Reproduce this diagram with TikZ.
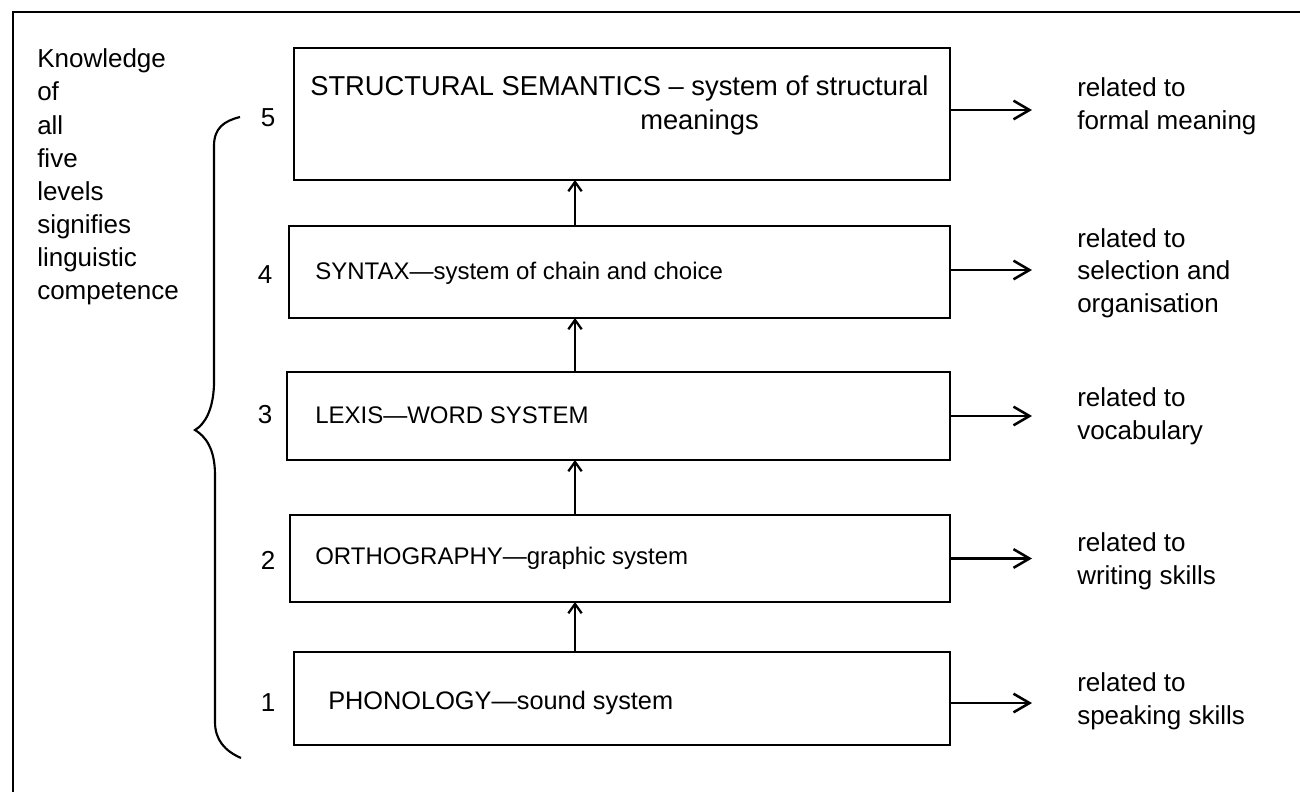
\documentclass[tikz,border=0pt]{standalone}
\usepackage{fontspec}
\setmainfont{Liberation Sans}
\usetikzlibrary{arrows.meta}
\begin{document}
\begin{tikzpicture}[x=0.75pt,y=-0.75pt,
  levelbox/.style={draw, line width=2.1pt, inner sep=0pt, outer sep=0pt},
  boxtext/.style={anchor=west, inner sep=0pt, font=\fontsize{18}{22}\selectfont},
  bigboxtext/.style={anchor=west, inner sep=0pt, font=\fontsize{20.5}{24}\selectfont},
  sidetext/.style={anchor=west, inner sep=0pt, align=left, font=\fontsize{19.5}{24.5}\selectfont},
  lefttext/.style={anchor=base west, inner sep=0pt, font=\fontsize{19.5}{24}\selectfont},
  numtext/.style={inner sep=0pt, font=\fontsize{19.5}{24}\selectfont},
  rarrow/.style={line width=1.9pt, -{Straight Barb[length=12pt, width=14pt, line width=1.9pt]}},
  uarrow/.style={line width=1.7pt, -{Straight Barb[length=7pt, width=10pt, line width=1.7pt]}},
  framestyle/.style={line width=2.2pt},
  bracestyle/.style={line width=1.6pt}
]
\useasboundingbox (0,0) rectangle (1300,792);
% open frame
\coordinate (fr1) at (13,792);
\coordinate (fr2) at (13,12);
\coordinate (fr3) at (1300,12);
\draw[framestyle] (fr1) -- (fr2) -- (fr3);

% boxes
\node[levelbox, minimum width=492pt, minimum height=99pt] (b5) at (622,114) {};
\node[levelbox, minimum width=495.75pt, minimum height=69pt] (b4) at (619.5,272) {};
\node[levelbox, minimum width=497.25pt, minimum height=66pt] (b3) at (618.5,416) {};
\node[levelbox, minimum width=495pt, minimum height=65.25pt] (b2) at (620,558.5) {};
\node[levelbox, minimum width=492pt, minimum height=69.75pt] (b1) at (622,698.5) {};

% box texts
\node[bigboxtext] (t5a) at (310,88) {STRUCTURAL SEMANTICS -- system of structural};
\node[bigboxtext] (t5b) at (640,122) {meanings};
\node[boxtext] (t4) at (315,273) {SYNTAX—system of chain and choice};
\node[boxtext] (t3) at (315,415) {LEXIS—WORD SYSTEM};
\node[boxtext] (t2) at (315,558) {ORTHOGRAPHY—graphic system};
\node[boxtext, font=\fontsize{19}{22}\selectfont] (t1) at (328,703) {PHONOLOGY—sound system};

% numbers
\node[numtext] (n5) at (268,118) {5};
\node[numtext] (n4) at (265,275) {4};
\node[numtext] (n3) at (265,415) {3};
\node[numtext] (n2) at (268,560) {2};
\node[numtext] (n1) at (268,703) {1};

% upward arrows
\coordinate (ax) at (575,0);
\draw[uarrow] (b1.north -| ax) -- (b2.south -| ax);
\draw[uarrow] (b2.north -| ax) -- (b3.south -| ax);
\draw[uarrow] (b3.north -| ax) -- (b4.south -| ax);
\draw[uarrow] (b4.north -| ax) -- (b5.south -| ax);

% right arrows
\path ([yshift=3pt]b5.east) ++(82,0) coordinate (e5);
\path ([yshift=1.5pt]b4.east) ++(82,0) coordinate (e4);
\path (b3.east) ++(82,0) coordinate (e3);
\path (b2.east) ++(82,0) coordinate (e2);
\path ([yshift=-3.4pt]b1.east) ++(82,0) coordinate (e1);
\draw[rarrow] ([yshift=3pt]b5.east) -- (e5);
\draw[rarrow] ([yshift=1.5pt]b4.east) -- (e4);
\draw[rarrow] (b3.east) -- (e3);
\draw[rarrow] (b2.east) -- (e2);
\draw[rarrow] ([yshift=-3.4pt]b1.east) -- (e1);

% side labels
\node[sidetext] (s5) at (1077,106) {related to\\formal meaning};
\node[sidetext] (s4) at (1077,273) {related to\\selection and\\organisation};
\node[sidetext] (s3) at (1077,416) {related to\\vocabulary};
\node[sidetext] (s2) at (1077,561) {related to\\writing skills};
\node[sidetext] (s1) at (1077,701) {related to\\speaking skills};

% left text
\foreach \w [count=\i] in {Knowledge,of,all,five,levels,signifies,linguistic,competence}{
  \node[lefttext] (L\i) at (37,{68+(\i-1)*33}) {\w};
}

% brace
\draw[bracestyle] (240,117) .. controls (224,121) and (214,128) .. (214,146)
  -- (214,385) .. controls (213,410) and (205,424) .. (195,430)
  .. controls (205,436) and (215,448) .. (215,475)
  -- (215,722) .. controls (215,740) and (225,751) .. (241,758);
\end{tikzpicture}
\end{document}
